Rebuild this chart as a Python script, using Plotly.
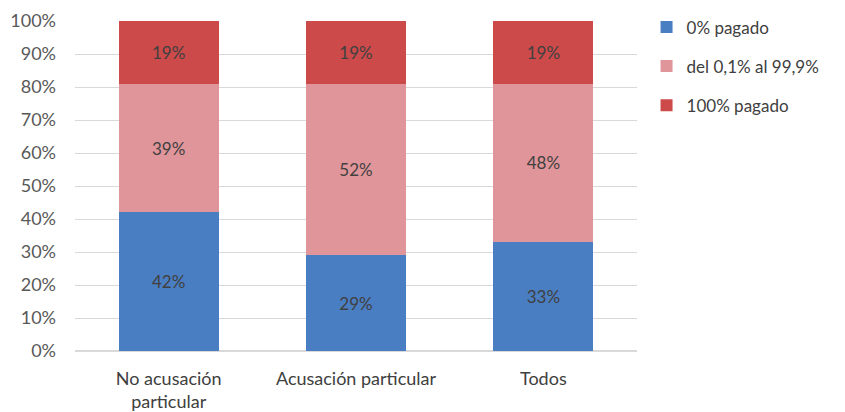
import plotly.graph_objects as go

categories = ["No acusación<br>particular", "Acusación particular", "Todos"]
series_names = ["0% pagado", "del 0,1% al 99,9%", "100% pagado"]
pct_0 = [42, 29, 33]
pct_partial = [39, 52, 48]
pct_100 = [19, 19, 19]
tick_vals = [0, 10, 20, 30, 40, 50, 60, 70, 80, 90, 100]
tick_text = [f"{v}%" for v in tick_vals]

colors = ["#4a7ec2", "#e0959a", "#cc4a4a"]
values = [pct_0, pct_partial, pct_100]

fig = go.Figure()
for name, vals, col in zip(series_names, values, colors):
    fig.add_trace(go.Bar(
        x=categories, y=vals, name=name, legendgroup=name,
        marker=dict(color=col, line=dict(width=0)),
        text=[f"{v}%" for v in vals], textposition="inside",
        insidetextanchor="middle",
        textfont=dict(color="#404040", size=17, family="Lato"),
    ))

fig.update_layout(
    barmode="stack",
    bargap=0.465,
    width=837, height=404,
    margin=dict(l=67, r=208, t=13, b=61, autoexpand=False),
    paper_bgcolor="white", plot_bgcolor="white",
    font=dict(family="Lato", size=18, color="#595959"),
    uniformtext=dict(minsize=10, mode="show"),
    legend=dict(
        x=1.017, xanchor="left", y=1.035, yanchor="top",
        traceorder="grouped", tracegroupgap=14,
        font=dict(size=17, color="#404040", family="Lato"),
        itemwidth=30,
    ),
    showlegend=True,
)
fig.update_yaxes(
    range=[0, 100], tickvals=tick_vals, ticktext=tick_text,
    showgrid=True, gridcolor="#d9d9d9", gridwidth=1,
    zeroline=True, zerolinecolor="#d9d9d9", showline=False,
    ticklabelstandoff=18, fixedrange=True, automargin=False,
)
fig.update_xaxes(
    showgrid=False, showline=False, ticks="", automargin=False,
    ticklabelstandoff=15, tickfont=dict(size=18, color="#404040"),
)

fig.write_html("out.html")
